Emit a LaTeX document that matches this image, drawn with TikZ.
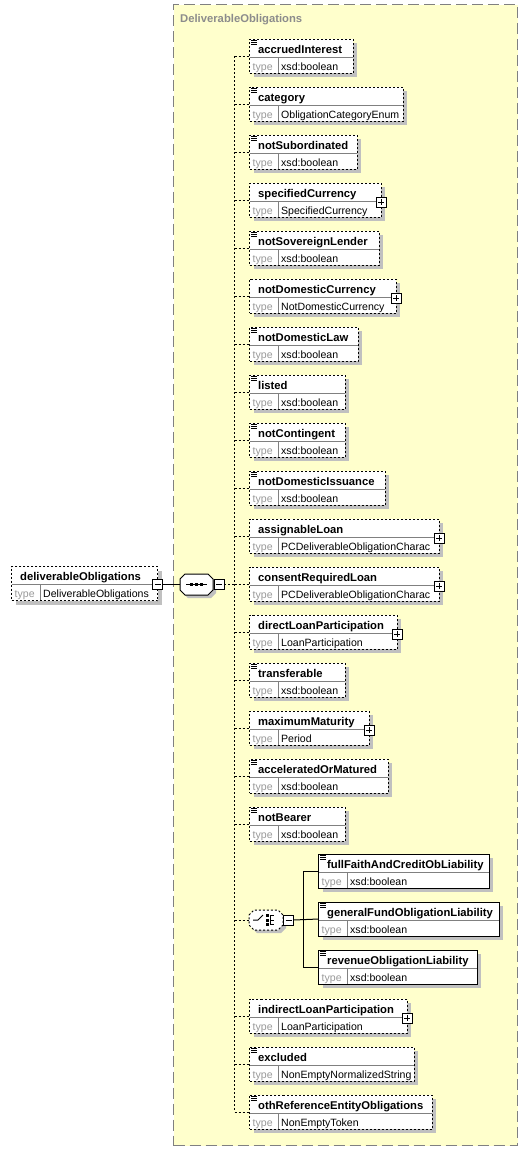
\documentclass[tikz,border=0pt]{standalone}
\usepackage{fontspec}
\setmainfont{Liberation Sans}
\definecolor{bgy}{HTML}{FFFFCC}
\definecolor{bordergray}{HTML}{808080}
\definecolor{shadowgray}{HTML}{C0C0C0}
\definecolor{typegray}{HTML}{999999}
\definecolor{titlegray}{HTML}{8C8C8C}
\definecolor{divgray}{HTML}{808080}
\newcommand\xelem[7]{%
  \fill[shad] ({#2+4},{#3+4}) rectangle ({#4+4},{#3+38});
  \node[ebox,#7,minimum width={(#4-#2)*1bp}] (#1) at (#2,#3) {};
  \draw[divc] ({#2+0.5},{#3+18}) -- ({#4-0.5},{#3+18});
  \draw[divc] ({#2+28.5},{#3+18.5}) -- ({#2+28.5},{#3+33.5});
  \node[nm] (#1n) at ({#2+8.5},{#3+14}) {#5};
  \node[tl] (#1k) at ({#2+3},{#3+31}) {type};
  \node[tp] (#1t) at ({#2+31.5},{#3+31}) {#6};
}
\newcommand\xlines[2]{\foreach \k in {0,1.7,3.4}{\draw[line width=0.8bp] ({#1+1.5},{#2+1.5+\k}) -- ({#1+7.5},{#2+1.5+\k});}}
\newcommand\xplus[3]{%
  \node[btn] (#1) at (#2,#3) {};
  \draw[line width=1bp] ({#2-3},#3) -- ({#2+3},#3) (#2,{#3-3}) -- (#2,{#3+3});}
\newcommand\xminus[3]{%
  \node[btn] (#1) at (#2,#3) {};
  \draw[line width=1bp] ({#2-3},#3) -- ({#2+3},#3);}
\newcommand\octa[5]{%
  \draw[#5] ({#1-#3},{#2-#4+5}) -- ({#1-#3+5},{#2-#4}) -- ({#1+#3-5},{#2-#4}) -- ({#1+#3},{#2-#4+5}) -- ({#1+#3},{#2+#4-5}) -- ({#1+#3-5},{#2+#4}) -- ({#1-#3+5},{#2+#4}) -- ({#1-#3},{#2+#4-5}) -- cycle;}
\begin{document}
\begin{tikzpicture}[x=1bp,y=-1bp,
  nm/.style={font=\fontsize{11.3}{13}\selectfont\bfseries, inner sep=0, anchor=base west},
  tp/.style={font=\fontsize{10.6}{12}\selectfont, inner sep=0, anchor=base west},
  tl/.style={tp, text=typegray},
  ebox/.style={draw=black, line width=1bp, fill=white, inner sep=0, outer sep=0, anchor=north west, minimum height=34bp},
  opt/.style={dash pattern=on 2bp off 2bp},
  req/.style={},
  conn/.style={line width=1bp, dash pattern=on 2bp off 2bp},
  solidconn/.style={line width=1bp},
  shad/.style={fill=shadowgray, draw=none},
  divc/.style={draw=divgray, line width=1bp},
  btn/.style={draw=black, line width=1bp, fill=white, minimum size=10bp, inner sep=0, outer sep=0}
]
\useasboundingbox (0,0) rectangle (528,1151);
% group box
\node[draw=bordergray, line width=1bp, dash pattern=on 11bp off 5bp, fill=bgy, inner sep=0, outer sep=0, anchor=north west, minimum width=344bp, minimum height=1141bp] (grp) at (173.5,4.5) {};
\node[nm, text=titlegray] (title) at (180,22) {DeliverableObligations};

% root element
\xelem{root}{11.5}{566.5}{157.5}{deliverableObligations}{DeliverableObligations}{opt}
\xminus{rm}{157.5}{584.5}

% sequence compositor
\octa{199.5}{587.5}{16.5}{10.5}{shad}
\octa{196.5}{584.5}{16.5}{10.5}{draw=black,line width=1bp,fill=white}
\node[inner sep=0, outer sep=0, minimum width=33bp, minimum height=21bp] (seq) at (196.5,584.5) {};
\draw[line width=1bp] (186,584.5) -- (207,584.5);
\foreach \xx in {191.5,196.5,201.5}{\fill (\xx-1.5,583) rectangle (\xx+1.5,586);}
\xminus{sm}{219}{584.5}
\draw[solidconn] (rm.east) -- (seq.west);
\coordinate (bus) at (234.5,584.5);
\draw[conn] (sm.east) -- (bus);

% sequence children
\xelem{e0}{249.5}{39}{353}{accruedInterest}{xsd:boolean}{opt}\xlines{249.5}{39}
\xelem{e1}{249.5}{87}{403}{category}{ObligationCategoryEnum}{opt}\xlines{249.5}{87}
\xelem{e2}{249.5}{135}{357}{notSubordinated}{xsd:boolean}{opt}\xlines{249.5}{135}
\xelem{e3}{249.5}{183}{381}{specifiedCurrency}{SpecifiedCurrency}{opt}\xplus{p3}{381}{202}
\xelem{e4}{249.5}{231}{379}{notSovereignLender}{xsd:boolean}{opt}\xlines{249.5}{231}
\xelem{e5}{249.5}{279}{396}{notDomesticCurrency}{NotDomesticCurrency}{opt}\xplus{p5}{396}{298}
\xelem{e6}{249.5}{327}{358}{notDomesticLaw}{xsd:boolean}{opt}\xlines{249.5}{327}
\xelem{e7}{249.5}{375}{345}{listed}{xsd:boolean}{opt}\xlines{249.5}{375}
\xelem{e8}{249.5}{423}{345}{notContingent}{xsd:boolean}{opt}\xlines{249.5}{423}
\xelem{e9}{249.5}{471}{385}{notDomesticIssuance}{xsd:boolean}{opt}\xlines{249.5}{471}
\xelem{e10}{249.5}{519}{439}{assignableLoan}{PCDeliverableObligationCharac}{opt}\xplus{p10}{439}{538}
\xelem{e11}{249.5}{567}{439}{consentRequiredLoan}{PCDeliverableObligationCharac}{opt}\xplus{p11}{439}{586}
\xelem{e12}{249.5}{615}{397}{directLoanParticipation}{LoanParticipation}{opt}\xplus{p12}{397}{634}
\xelem{e13}{249.5}{663}{345}{transferable}{xsd:boolean}{opt}\xlines{249.5}{663}
\xelem{e14}{249.5}{711}{369}{maximumMaturity}{Period}{opt}\xplus{p14}{369}{730}
\xelem{e15}{249.5}{759}{388}{acceleratedOrMatured}{xsd:boolean}{opt}\xlines{249.5}{759}
\xelem{e16}{249.5}{807}{345}{notBearer}{xsd:boolean}{opt}\xlines{249.5}{807}
\xelem{e20}{249.5}{999}{407}{indirectLoanParticipation}{LoanParticipation}{opt}\xplus{p20}{407}{1018}
\xelem{e21}{249.5}{1047}{414}{excluded}{NonEmptyNormalizedString}{opt}\xlines{249.5}{1047}
\xelem{e22}{249.5}{1095}{432}{othReferenceEntityObligations}{NonEmptyToken}{opt}\xlines{249.5}{1095}

% choice compositor
\octa{269}{923}{17}{10}{shad}
\octa{266}{920}{17}{10}{draw=black,line width=1bp,fill=white,dash pattern=on 2bp off 2bp}
\node[inner sep=0, outer sep=0, minimum width=34bp, minimum height=20bp] (ch) at (266,920) {};
\draw[line width=1bp] (253,920) -- (258,920) -- (263,915);
\draw[line width=1bp] (270,915.5) -- (274,915.5) (270,915.5) -- (270,924.5) (270,920) -- (274,920) (270,924.5) -- (274,924.5);
\foreach \yy in {915.5,920,924.5}{\fill (265.5,\yy-1.5) rectangle (268.5,\yy+1.5);}
\xminus{cm}{288.5}{920}
\coordinate (cb) at (303,920);

% choice children
\xelem{c1}{318.5}{854}{489}{fullFaithAndCreditObLiability}{xsd:boolean}{req}\xlines{318.5}{854}
\xelem{c2}{318.5}{902}{499}{generalFundObligationLiability}{xsd:boolean}{req}\xlines{318.5}{902}
\xelem{c3}{318.5}{950}{477}{revenueObligationLiability}{xsd:boolean}{req}\xlines{318.5}{950}

% connectors
\draw[conn] (e0.west -| bus) -- (e22.west -| bus);
\foreach \n in {e0,e1,e2,e3,e4,e5,e6,e7,e8,e9,e10,e11,e12,e13,e14,e15,e16,e20,e21,e22}{
  \draw[conn] (\n.west -| bus) -- (\n.west);}
\draw[conn] (ch.west -| bus) -- (ch.west);
\draw[solidconn] (cm.east) -- (c2.west);
\draw[solidconn] (c1.west) -- (c1.west -| cb) -- (c3.west -| cb) -- (c3.west);
\end{tikzpicture}
\end{document}
